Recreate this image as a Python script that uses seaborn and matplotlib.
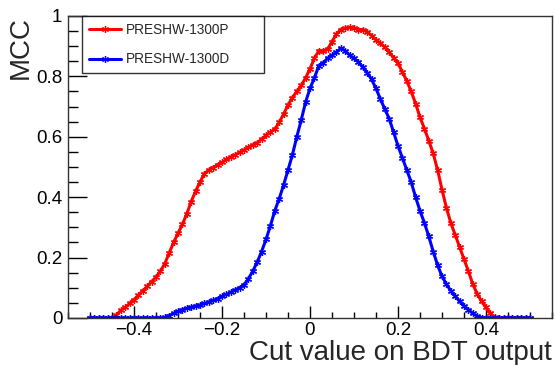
import numpy as np
import pandas as pd
import matplotlib
matplotlib.use('Agg')
import matplotlib.pyplot as plt
from matplotlib.ticker import MultipleLocator, FuncFormatter
import seaborn as sns

# valores de corte sobre la salida del BDT
cut_values = np.round(np.linspace(-0.5, 0.5, 101), 2)

mcc_1300p = [
    0, 0, 0, 0, 0, 0,
    0.01, 0.025, 0.035, 0.048, 0.06, 0.075, 0.09, 0.105, 0.12, 0.136,
    0.155, 0.18, 0.215, 0.25, 0.28, 0.31, 0.345, 0.385, 0.42, 0.45,
    0.478, 0.49, 0.498, 0.507, 0.515, 0.525, 0.533, 0.54, 0.548, 0.556,
    0.565, 0.573, 0.58, 0.592, 0.605, 0.615, 0.625, 0.648, 0.675, 0.705,
    0.73, 0.75, 0.77, 0.795, 0.825, 0.86, 0.885, 0.885, 0.89, 0.915,
    0.94, 0.955, 0.96, 0.962, 0.96, 0.955, 0.955, 0.948, 0.935, 0.92,
    0.91, 0.897, 0.88, 0.862, 0.843, 0.815, 0.785, 0.75, 0.71, 0.665,
    0.627, 0.587, 0.545, 0.49, 0.425, 0.365, 0.315, 0.275, 0.235, 0.195,
    0.155, 0.112, 0.08, 0.055, 0.035, 0.015, 0.003,
    0, 0, 0, 0, 0, 0, 0, 0,
]

mcc_1300d = [
    0, 0, 0, 0, 0, 0, 0, 0, 0, 0, 0, 0, 0, 0, 0, 0, 0, 0.002,
    0.008, 0.015, 0.022, 0.028, 0.032, 0.036, 0.04, 0.043, 0.048, 0.053,
    0.058, 0.064, 0.072, 0.078, 0.085, 0.093, 0.1, 0.11, 0.13, 0.155,
    0.185, 0.22, 0.26, 0.305, 0.355, 0.395, 0.44, 0.49, 0.54, 0.6,
    0.655, 0.715, 0.76, 0.795, 0.835, 0.845, 0.86, 0.87, 0.88, 0.893,
    0.885, 0.87, 0.86, 0.848, 0.83, 0.812, 0.79, 0.76, 0.725, 0.692,
    0.66, 0.615, 0.57, 0.53, 0.49, 0.45, 0.4, 0.355, 0.315, 0.27,
    0.22, 0.175, 0.138, 0.112, 0.09, 0.072, 0.055, 0.04, 0.028, 0.015,
    0.006, 0.001,
    0, 0, 0, 0, 0, 0, 0, 0, 0, 0, 0,
]

series_names = ['PRESHW-1300P', 'PRESHW-1300D']
series_colors = ['#ff0000', '#0000ff']
series_values = [mcc_1300p, mcc_1300d]

sns.set_style('ticks')
plt.rcParams['font.family'] = ['Liberation Sans', 'DejaVu Sans']

fig = plt.figure(figsize=(5.55, 3.65), dpi=100)
ax = fig.add_axes([0.1225, 0.1288, 0.8721, 0.8274])

handles = []
for name, vals, col in zip(series_names, series_values, series_colors):
    d = pd.DataFrame({'cut': cut_values, 'mcc': vals})
    sns.lineplot(data=d, x='cut', y='mcc', color=col, marker=(6, 2, 0),
                 markersize=5, markeredgewidth=0.9, markeredgecolor=col,
                 linewidth=2.2, ax=ax)
    handles.append(plt.Line2D([], [], color=col, linewidth=2.2, marker=(6, 2, 0),
                              markersize=5, markeredgewidth=0.9, markeredgecolor=col))

ax.set_xlim(-0.55, 0.55)
ax.set_ylim(0, 1)

ax.xaxis.set_major_locator(MultipleLocator(0.2))
ax.xaxis.set_minor_locator(MultipleLocator(0.05))
ax.yaxis.set_major_locator(MultipleLocator(0.2))
ax.yaxis.set_minor_locator(MultipleLocator(0.05))
fmt = FuncFormatter(lambda v, p: ('%g' % round(v, 2)).replace('-', '\u2212'))
ax.xaxis.set_major_formatter(fmt)
ax.yaxis.set_major_formatter(fmt)

ax.tick_params(axis='both', which='both', direction='in', top=False, right=False,
               labelsize=13.5, colors='black', width=1)
ax.tick_params(axis='y', which='major', length=14, pad=4)
ax.tick_params(axis='y', which='minor', length=7)
ax.tick_params(axis='x', which='major', length=9, pad=3)
ax.tick_params(axis='x', which='minor', length=4.5)

for s in ax.spines.values():
    s.set_visible(True)
    s.set_color('#333333')
    s.set_linewidth(1.0)

ax.set_xlabel('Cut value on BDT output', fontsize=20, loc='right', labelpad=0.7)
ax.set_ylabel('MCC', fontsize=20, loc='top', labelpad=2)

leg = ax.legend(handles, series_names, loc='upper left',
                bbox_to_anchor=(0.029, 0.81, 0.376, 0.19), mode='expand',
                fontsize=9.8, frameon=True, fancybox=False, borderpad=0.5,
                labelspacing=1.15, handlelength=2.4, handletextpad=0.35,
                borderaxespad=0)
leg.get_frame().set_edgecolor('black')
leg.get_frame().set_linewidth(1.0)

fig.savefig('out.png', dpi=100)
